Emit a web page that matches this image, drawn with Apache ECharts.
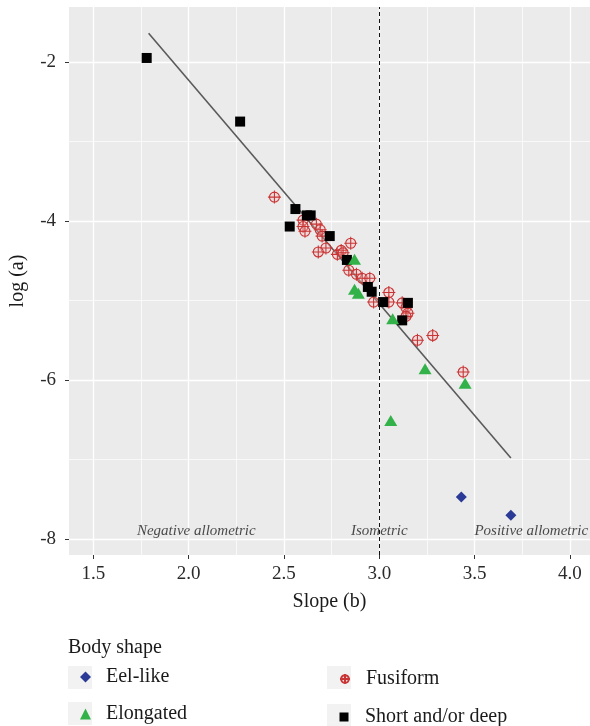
<!DOCTYPE html>
<html>
<head>
<meta charset="utf-8">
<script src="https://cdn.jsdelivr.net/npm/echarts@6/dist/echarts.min.js"></script>
<style>
  html, body { margin: 0; padding: 0; background: #fff; }
  #chart { width: 590px; height: 726px; }
</style>
</head>
<body>
<div id="chart"></div>
<script>
  // data
  var eelX = [3.43, 3.69];
  var eelY = [-7.47, -7.70];

  var elongX = [2.87, 2.87, 2.89, 3.07, 3.24, 3.45, 3.06];
  var elongY = [-4.48, -4.86, -4.91, -5.23, -5.86, -6.04, -6.51];

  var fusiX = [2.45, 2.60, 2.60, 2.61, 2.67, 2.69, 2.70, 2.72, 2.68, 2.78, 2.80, 2.81, 2.85, 2.84,
               2.88, 2.91, 2.95, 2.97, 3.05, 3.05, 3.12, 3.14, 3.15, 3.14, 3.20, 3.28, 3.44];
  var fusiY = [-3.70, -3.99, -4.07, -4.13, -4.04, -4.11, -4.19, -4.34, -4.39, -4.42, -4.37, -4.40, -4.28, -4.62,
               -4.67, -4.72, -4.72, -5.02, -4.90, -5.02, -5.03, -5.09, -5.16, -5.20, -5.50, -5.44, -5.90];

  var shortX = [1.78, 2.27, 2.56, 2.53, 2.62, 2.64, 2.74, 2.83, 2.94, 2.96, 3.02, 3.15, 3.12];
  var shortY = [-1.95, -2.75, -3.85, -4.07, -3.93, -3.93, -4.19, -4.49, -4.83, -4.89, -5.02, -5.03, -5.25];

  // regression line end points
  var fitX = [1.79, 3.69];
  var fitY = [-1.64, -6.98];

  var xTicks = [1.5, 2.0, 2.5, 3.0, 3.5, 4.0];
  var yTicks = [-8, -6, -4, -2];
  var xMinor = [1.75, 2.25, 2.75, 3.25, 3.75];
  var yMinor = [-7, -5, -3];

  var annText = ['Negative allometric', 'Isometric', 'Positive allometric'];
  var annX = [2.04, 3.0, 3.797];
  var annY = [-7.905, -7.905, -7.905];

  var FONT = "'Liberation Serif', 'DejaVu Serif', serif";
  var fusiSymbol = 'path://M0,-10A10,10 0 1,1 0,10A10,10 0 1,1 0,-10M-13,0L13,0M0,-13L0,13';

  function zip(xs, ys) {
    var out = [];
    for (var i = 0; i < xs.length; i++) out.push([xs[i], ys[i]]);
    return out;
  }

  var annData = [];
  for (var i = 0; i < annText.length; i++) {
    annData.push({ name: annText[i], value: [annX[i], annY[i]] });
  }

  var chart = echarts.init(document.getElementById('chart'));

  // one legend per key so every icon keeps its own size
  function legendItem(name, iconCx, top, size, textLeft) {
    return {
      data: [name],
      orient: 'vertical',
      selectedMode: false,
      left: iconCx - size / 2,
      top: top,
      itemWidth: size,
      itemHeight: size,
      textStyle: {
        fontFamily: FONT, fontSize: 20, color: '#1a1a1a', lineHeight: 20,
        padding: [0, 0, 0, textLeft - (iconCx + size / 2) - 10]
      }
    };
  }

  chart.setOption({
    animation: false,
    backgroundColor: '#fff',
    title: {
      text: 'Body shape',
      left: 63,
      top: 633,
      textStyle: { fontFamily: FONT, fontSize: 20, fontWeight: 'normal', color: '#1a1a1a' }
    },
    graphic: [
      { type: 'rect', shape: { x: 68, y: 666, width: 24, height: 23 }, style: { fill: '#F2F2F2' } },
      { type: 'rect', shape: { x: 68, y: 702, width: 24, height: 23 }, style: { fill: '#F2F2F2' } },
      { type: 'rect', shape: { x: 327, y: 666, width: 24, height: 23 }, style: { fill: '#F2F2F2' } },
      { type: 'rect', shape: { x: 327, y: 704, width: 24, height: 22 }, style: { fill: '#F2F2F2' } }
    ],
    legend: [
      legendItem('Eel-like', 80.5, 662, 11, 106),
      legendItem('Elongated', 80.5, 699, 11, 106),
      legendItem('Fusiform', 339, 664, 10, 365),
      legendItem('Short and/or deep', 339, 702, 9, 365)
    ],
    grid: {
      left: 67, right: 0, top: 7, bottom: 171,
      show: true, backgroundColor: '#EBEBEB', borderWidth: 0
    },
    xAxis: {
      type: 'value',
      min: 1.3725, max: 4.105,
      splitNumber: 5,
      name: 'Slope (b)',
      nameLocation: 'middle',
      nameGap: 37,
      nameTextStyle: { fontFamily: FONT, fontSize: 20, color: '#1a1a1a' },
      axisLine: { show: false },
      axisTick: { show: true, length: 4, lineStyle: { color: '#333' }, customValues: xTicks },
      axisLabel: {
        fontFamily: FONT, fontSize: 19, color: '#2a2a2a', margin: 10,
        customValues: xTicks,
        formatter: function (v) { return v.toFixed(1); }
      },
      splitLine: { show: true, lineStyle: { color: '#fff', width: 1.3 } }
    },
    yAxis: {
      type: 'value',
      min: -8.201, max: -1.309,
      splitNumber: 4,
      name: 'log (a)',
      nameLocation: 'middle',
      nameGap: 41,
      nameTextStyle: { fontFamily: FONT, fontSize: 20, color: '#1a1a1a' },
      axisLine: { show: false },
      axisTick: { show: true, length: 4, lineStyle: { color: '#333' }, customValues: yTicks },
      axisLabel: {
        fontFamily: FONT, fontSize: 19, color: '#2a2a2a', margin: 13,
        customValues: yTicks
      },
      splitLine: { show: true, lineStyle: { color: '#fff', width: 1.3 } }
    },
    series: [
      {
        // minor grid lines
        type: 'line',
        data: [],
        silent: true,
        markLine: {
          z: 1,
          silent: true,
          symbol: ['none', 'none'],
          label: { show: false },
          lineStyle: { color: '#fff', width: 0.7, type: 'solid' },
          data: xMinor.map(function (v) { return { xAxis: v }; })
            .concat(yMinor.map(function (v) { return { yAxis: v }; }))
        }
      },
      {
        name: 'fit',
        type: 'line',
        data: zip(fitX, fitY),
        symbol: 'none',
        z: 3,
        lineStyle: { color: '#5a5a5a', width: 1.6 },
        markLine: {
          silent: true,
          symbol: ['none', 'none'],
          label: { show: false },
          lineStyle: { color: '#111', width: 1, type: [4, 3] },
          data: [{ xAxis: 3.0 }]
        }
      },
      {
        name: 'Eel-like',
        type: 'scatter',
        data: zip(eelX, eelY),
        symbol: 'diamond',
        symbolSize: 11,
        z: 4,
        itemStyle: { color: '#2B3A96', opacity: 1 }
      },
      {
        name: 'Fusiform',
        type: 'scatter',
        data: zip(fusiX, fusiY),
        symbol: fusiSymbol,
        symbolSize: 13,
        z: 4,
        itemStyle: { color: 'rgba(240,190,190,0.35)', borderColor: '#C93535', borderWidth: 1.1, opacity: 1 }
      },
      {
        name: 'Short and/or deep',
        type: 'scatter',
        data: zip(shortX, shortY),
        symbol: 'rect',
        symbolSize: 10,
        z: 4,
        itemStyle: { color: '#000', opacity: 1 }
      },
      {
        name: 'Elongated',
        type: 'scatter',
        data: zip(elongX, elongY),
        symbol: 'triangle',
        symbolSize: [13, 11],
        z: 4,
        itemStyle: { color: '#33B24A', opacity: 1 }
      },
      {
        name: 'annotations',
        type: 'scatter',
        data: annData,
        symbolSize: 0,
        silent: true,
        z: 5,
        label: {
          show: true,
          position: 'inside',
          formatter: '{b}',
          fontFamily: FONT,
          fontStyle: 'italic',
          fontSize: 15,
          color: '#222'
        }
      }
    ]
  });
</script>
</body>
</html>
